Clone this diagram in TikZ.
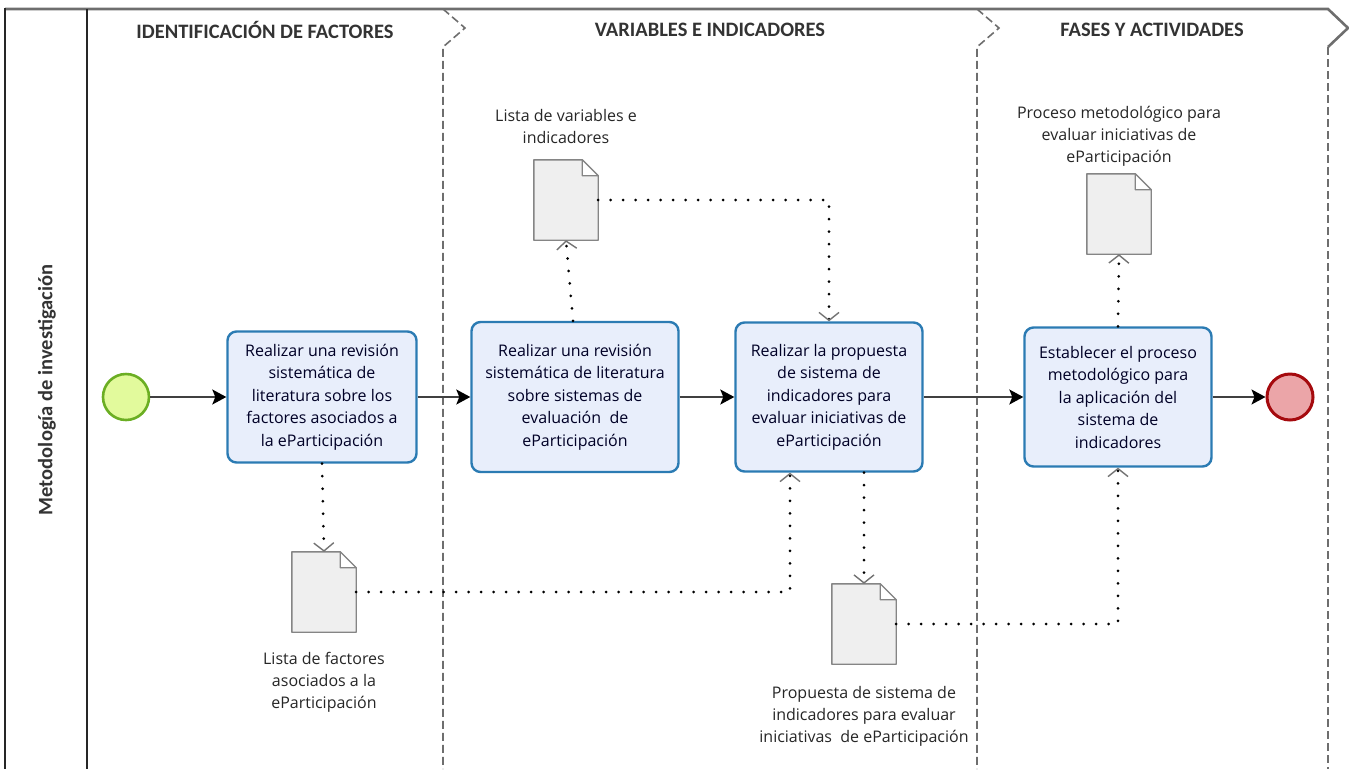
\documentclass[tikz,border=0pt]{standalone}
\usepackage{fontspec}
\setmainfont{Carlito}
\newfontfamily\boxfont{Open Sans}
\usetikzlibrary{positioning,arrows.meta}
\definecolor{taskfill}{HTML}{E8EEFB}
\definecolor{taskline}{HTML}{2B7BB3}
\definecolor{startfill}{HTML}{E2FA9C}
\definecolor{startline}{HTML}{6BAE23}
\definecolor{endfill}{HTML}{EBA5A8}
\definecolor{endline}{HTML}{A50A0E}
\definecolor{docfill}{HTML}{EFEFEF}
\definecolor{docline}{HTML}{858585}
\definecolor{laneline}{HTML}{6E6E6E}

\begin{document}
\begin{tikzpicture}[x=1pt,y=-1pt,
task/.style={draw=taskline,fill=taskfill,line width=2.4pt,rounded corners=9pt,
    align=center,inner sep=0pt,text=black!85!blue,
    font=\boxfont\fontsize{16}{22.5}\selectfont},
event/.style={circle,minimum size=46pt,inner sep=0pt,line width=2.6pt},
doc/.style={minimum width=64pt,minimum height=80pt,inner sep=0pt},
doclabel/.style={align=center,inner sep=0pt,text=black!85,
    font=\boxfont\fontsize{16}{22}\selectfont},
header/.style={text=black!80,font=\fontsize{20.5}{22}\bfseries\selectfont},
flow/.style={draw=black!75,line width=1.6pt,
    -{Stealth[length=14pt,width=15pt,inset=3pt,color=black]}},
assoc/.style={draw=black,line width=3pt,line cap=round,dash pattern=on 0pt off 12.5pt,
    -{Straight Barb[length=8pt,width=20pt,line width=1.4pt,color=black!55]}},
lane/.style={draw=laneline,line width=1.6pt,dash pattern=on 8pt off 4pt},
frame/.style={draw=laneline,line width=2.6pt}]
\useasboundingbox (0,0) rectangle (1349,769);

% pool and lanes
\draw[frame] (5,9) -- (1328,9) -- (1348,28) -- (1328,47);
\draw[lane] (1328,47) -- (1328,769);
\draw[black!85,line width=1.5pt] (5,8) -- (5,769);
\draw[black!85,line width=1.5pt] (87,9) -- (87,769);
\draw[lane] (443,9) -- (465,28) -- (443,47) -- (443,769);
\draw[lane] (977,9) -- (999,28) -- (977,47) -- (977,769);

\node (hfac) [header] at (265,30) {IDENTIFICACIÓN DE FACTORES};
\node (hvar) [header] at (710,30) {VARIABLES E INDICADORES};
\node (hfas) [header] at (1152,30) {FASES Y ACTIVIDADES};
\node (pool) [header,rotate=90] at (47,390) {Metodología de investigación};

% events and tasks
\node (start) [event,draw=startline,fill=startfill] at (126,397) {};
\node (revfac) [task,minimum width=189pt,minimum height=131pt] at (322,397)
    {Realizar una revisión\\sistemática de\\literatura sobre los\\factores asociados a\\la eParticipación};
\node (revsis) [task,minimum width=207pt,minimum height=150pt] at (575,397)
    {Realizar una revisión\\sistemática de literatura\\sobre sistemas de\\evaluación \ de\\eParticipación};
\node (propsis) [task,minimum width=187pt,minimum height=149pt] at (829,397)
    {Realizar la propuesta\\de sistema de\\indicadores para\\evaluar iniciativas de\\eParticipación};
\node (estproc) [task,minimum width=187pt,minimum height=139pt] at (1118,397)
    {Establecer el proceso\\metodológico para\\la aplicación del\\sistema de\\indicadores};
\node (end) [event,draw=endline,fill=endfill,line width=3pt] at (1290,397) {};

% data objects
\node (dfac) [doc] at (324,592) {};
\node (dvar) [doc] at (566,200) {};
\node (dprop) [doc] at (864,624) {};
\node (dproc) [doc] at (1119,214) {};
\foreach \d in {dfac,dvar,dprop,dproc} {
  \draw[draw=docline,fill=docfill,line width=1.4pt,line join=round]
    (\d.north west) -- ([xshift=-16pt]\d.north east) -- ([yshift=-16pt]\d.north east)
    -- (\d.south east) -- (\d.south west) -- cycle;
  \draw[draw=docline,fill=white,line width=1.2pt,line join=round]
    ([xshift=-16pt]\d.north east) -- ([xshift=-16pt,yshift=-16pt]\d.north east)
    -- ([yshift=-16pt]\d.north east) -- cycle;
}
\node (lfac) [doclabel,below=20pt of dfac] {Lista de factores\\asociados a la\\eParticipación};
\node (lvar) [doclabel,above=16pt of dvar] {Lista de variables e\\indicadores};
\node (lprop) [doclabel,below=22pt of dprop] {Propuesta de sistema de\\indicadores para evaluar\\iniciativas \ de eParticipación};
\node (lproc) [doclabel,above=7pt of dproc] {Proceso metodológico para\\evaluar iniciativas de\\eParticipación};

% sequence flow
\draw[flow] (start) -- (revfac);
\draw[flow] (revfac) -- (revsis);
\draw[flow] (revsis) -- (propsis);
\draw[flow] (propsis) -- (estproc);
\draw[flow] (estproc) -- (end);

% data associations
\draw[assoc] (revfac.south) -- (dfac.north);
\draw[assoc] (dfac.east) -| ([xshift=-39pt]propsis.south);
\draw[assoc] ([xshift=35pt]propsis.south) -- (dprop.north);
\draw[assoc] (dprop.east) -| (estproc.south);
\draw[assoc] ([xshift=-2pt]revsis.north) -- (dvar.south);
\draw[assoc] (dvar.east) -| (propsis.north);
\draw[assoc] (estproc.north) -- (dproc.south);
\end{tikzpicture}
\end{document}
